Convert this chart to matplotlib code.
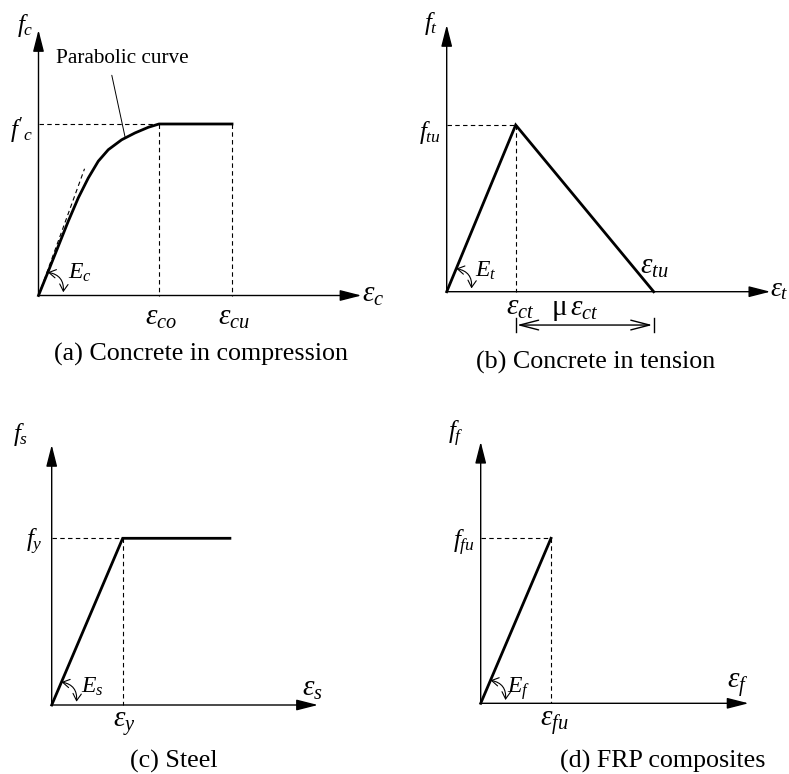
import matplotlib

matplotlib.use("Agg")

import matplotlib.pyplot as plt
import numpy as np

plt.rcParams["font.family"] = "Liberation Serif"
plt.rcParams["mathtext.fontset"] = "custom"
plt.rcParams["mathtext.rm"] = "Liberation Serif"
plt.rcParams["mathtext.it"] = "Liberation Serif:italic"

FIG_W, FIG_H = 789, 774

# (a) concrete in compression, strain / eps_co and stress / f'c
COMP_STRAIN = [0.0, 0.081, 0.164, 0.247, 0.330, 0.413, 0.496, 0.579, 0.690, 0.801, 0.912, 1.0, 1.606]
COMP_STRESS = [0.0, 0.141, 0.287, 0.433, 0.569, 0.685, 0.783, 0.850, 0.908, 0.948, 0.981, 1.0, 1.0]
COMP_TANGENT_STRAIN = [0.0, 0.382]
COMP_TANGENT_STRESS = [0.0, 0.739]

# (b) concrete in tension, strain / eps_ct and stress / f_tu
TENS_MU = 2.0
TENS_STRAIN = [0.0, 1.0, 1.0 + TENS_MU]
TENS_STRESS = [0.0, 1.0, 0.0]

# (c) steel, strain / eps_y and stress / f_y
STEEL_STRAIN = [0.0, 1.0, 2.51]
STEEL_STRESS = [0.0, 1.0, 1.0]

# (d) FRP, strain / eps_fu and stress / f_fu
FRP_STRAIN = [0.0, 1.0]
FRP_STRESS = [0.0, 1.0]

CAPTIONS = [
    "(a) Concrete in compression",
    "(b) Concrete in tension",
    "(c) Steel",
    "(d) FRP composites",
]

CURVE_LW = 2.0
AXIS_LW = 1.0
DASH_LW = 0.8
DASH = (0, (4, 3))
F_SIZE = 18
E_SIZE = 17
EPS = 21


def make_panel(fig, box, origin, scale):
    x0, y0, x1, y1 = box
    ax = fig.add_axes([x0 / FIG_W, 1 - y1 / FIG_H, (x1 - x0) / FIG_W, (y1 - y0) / FIG_H])
    ox, oy = origin
    sx, sy = scale
    ax.set_xlim((x0 - ox) / sx, (x1 - ox) / sx)
    ax.set_ylim((oy - y1) / sy, (oy - y0) / sy)
    ax.axis("off")
    return ax


def draw_axes_arrows(ax, x_tip, y_tip):
    for tip in [(x_tip, 0.0), (0.0, y_tip)]:
        ax.annotate(
            "",
            xy=tip,
            xytext=(0.0, 0.0),
            arrowprops=dict(
                arrowstyle="-|>,head_length=0.55,head_width=0.14",
                mutation_scale=24,
                lw=AXIS_LW,
                color="black",
                shrinkA=0,
                shrinkB=0,
            ),
        )


def dashed(ax, xs, ys):
    ax.plot(xs, ys, color="black", lw=DASH_LW, linestyle=DASH)


def label(ax, text, xy, offset, size, ha="center"):
    ax.annotate(
        text,
        xy=xy,
        xytext=offset,
        textcoords="offset pixels",
        ha=ha,
        va="center",
        fontsize=size,
        annotation_clip=False,
    )


def modulus_arc(ax, line_point, text, text_offset, radius=25, end_deg=7.5):
    o = ax.transData.transform((0.0, 0.0))
    p = ax.transData.transform(line_point)
    ang = np.arctan2(p[1] - o[1], p[0] - o[0])
    start = o + radius * np.array([np.cos(ang), np.sin(ang)])
    end = o + radius * np.array([np.cos(np.radians(end_deg)), np.sin(np.radians(end_deg))])
    ax.annotate(
        "",
        xy=end,
        xytext=start,
        xycoords="figure pixels",
        textcoords="figure pixels",
        arrowprops=dict(
            arrowstyle="<->,head_length=0.5,head_width=0.3",
            mutation_scale=10,
            lw=0.8,
            color="black",
            connectionstyle="arc3,rad=-0.45",
            shrinkA=0,
            shrinkB=0,
        ),
    )
    label(ax, text, (0.0, 0.0), text_offset, E_SIZE)


fig = plt.figure(figsize=(FIG_W / 100, FIG_H / 100), dpi=100)

# (a) concrete in compression
ax = make_panel(fig, (0, 0, 390, 380), (38.5, 295.5), (120.5, 171.5))
eps_cu = COMP_STRAIN[-1]
dashed(ax, [0, 1], [1, 1])
dashed(ax, [1, 1], [1, 0])
dashed(ax, [eps_cu, eps_cu], [1, 0])
dashed(ax, COMP_TANGENT_STRAIN, COMP_TANGENT_STRESS)
ax.plot(COMP_STRAIN, COMP_STRESS, color="black", lw=CURVE_LW, solid_joinstyle="round")
draw_axes_arrows(ax, 2.68, 1.548)
leader_x = 0.72
ax.annotate(
    "Parabolic curve",
    xy=(leader_x, np.interp(leader_x, COMP_STRAIN, COMP_STRESS)),
    xytext=(-3, 79),
    textcoords="offset pixels",
    ha="center",
    va="center",
    fontsize=15.3,
    arrowprops=dict(arrowstyle="-", lw=0.7, color="black", relpos=(0.41, 0.0), shrinkA=3, shrinkB=0),
)
modulus_arc(ax, (COMP_STRAIN[2], COMP_STRESS[2]), r"$E_c$", (41.5, 22.5))
label(ax, r"$f_c$", (0, 1.548), (-13.5, 5), F_SIZE)
label(ax, r"$f'_c$", (0, 1), (-17.5, -6), F_SIZE)
label(ax, r"$\varepsilon_{co}$", (1, 0), (2, -22), EPS)
label(ax, r"$\varepsilon_{cu}$", (eps_cu, 0), (2, -22), EPS)
label(ax, r"$\varepsilon_c$", (2.68, 0), (1, 1), EPS, ha="left")

# (b) concrete in tension
ax = make_panel(fig, (390, 0, 789, 380), (446.7, 291.7), (69.0, 166.7))
eps_tu = TENS_STRAIN[-1]
dashed(ax, [0, 1], [1, 1])
dashed(ax, [1, 1], [1, 0])
ax.plot(TENS_STRAIN, TENS_STRESS, color="black", lw=CURVE_LW, solid_joinstyle="miter")
draw_axes_arrows(ax, 4.69, 1.6)
dim_y = -0.2
for x in [1.0, eps_tu]:
    ax.plot([x, x], [dim_y + 0.04, dim_y - 0.04], color="black", lw=AXIS_LW)
ax.annotate(
    "",
    xy=(eps_tu, dim_y),
    xytext=(1.0, dim_y),
    arrowprops=dict(
        arrowstyle="<->,head_length=1.35,head_width=0.35",
        mutation_scale=10,
        lw=AXIS_LW,
        color="black",
        shrinkA=1,
        shrinkB=1,
    ),
)
modulus_arc(ax, (TENS_STRAIN[1], TENS_STRESS[1]), r"$E_t$", (39, 20.5))
label(ax, r"$f_t$", (0, 1.6), (-16, 1), F_SIZE)
label(ax, r"$f_{tu}$", (0, 1), (-17, -7), F_SIZE)
label(ax, r"$\varepsilon_{tu}$", (eps_tu, 0), (1, 25), EPS)
label(ax, r"$\varepsilon_t$", (4.69, 0), (0, 2), EPS - 1, ha="left")
label(ax, r"$\varepsilon_{ct}$", (1, 0), (5, -16), EPS)
label(ax, r"$\mathrm{\mu}\,\varepsilon_{ct}$", (1, 0), (59, -18), EPS)

# (c) steel
ax = make_panel(fig, (0, 380, 390, 774), (51.7, 705.0), (71.0, 166.7))
dashed(ax, [0, 1], [1, 1])
dashed(ax, [1, 1], [1, 0])
ax.plot(STEEL_STRAIN, STEEL_STRESS, color="black", lw=CURVE_LW, solid_joinstyle="miter")
draw_axes_arrows(ax, 3.75, 1.56)
modulus_arc(ax, (STEEL_STRAIN[1], STEEL_STRESS[1]), r"$E_s$", (41, 18))
label(ax, r"$f_s$", (0, 1.56), (-31, 10.5), F_SIZE)
label(ax, r"$f_y$", (0, 1), (-17, -4), F_SIZE)
label(ax, r"$\varepsilon_s$", (3.75, 0), (-6, 16), EPS)
label(ax, r"$\varepsilon_y$", (1, 0), (2, -19), EPS)

# (d) FRP composites
ax = make_panel(fig, (390, 380, 789, 774), (480.7, 703.3), (70.3, 165.0))
dashed(ax, [0, 1], [1, 1])
dashed(ax, [1, 1], [1, 0])
ax.plot(FRP_STRAIN, FRP_STRESS, color="black", lw=CURVE_LW)
draw_axes_arrows(ax, 3.81, 1.585)
modulus_arc(ax, (FRP_STRAIN[1], FRP_STRESS[1]), r"$E_f$", (38, 15))
label(ax, r"$f_f$", (0, 1.585), (-25, 8), F_SIZE)
label(ax, r"$f_{fu}$", (0, 1), (-17, -5), F_SIZE)
label(ax, r"$\varepsilon_f$", (3.81, 0), (-11, 18), EPS)
label(ax, r"$\varepsilon_{fu}$", (1, 0), (3, -20), EPS)

# captions under each panel
caption_pos = [(201, 354), (596, 362), (174, 761), (663, 761)]
for text, (cx, cy) in zip(CAPTIONS, caption_pos):
    fig.text(cx / FIG_W, 1 - cy / FIG_H, text, ha="center", va="center", fontsize=18.7)

fig.savefig("out.png", dpi=100)
